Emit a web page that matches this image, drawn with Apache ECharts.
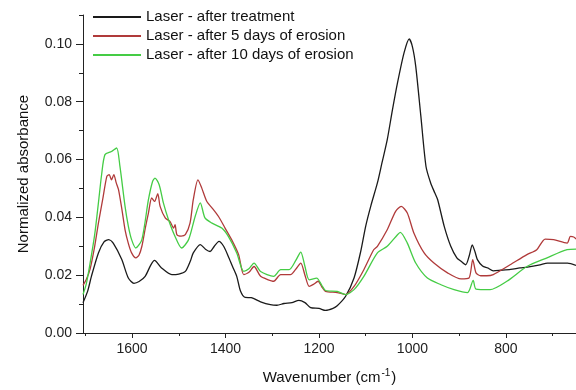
<!DOCTYPE html>
<html>
<head>
<meta charset="utf-8">
<script src="https://cdn.jsdelivr.net/npm/echarts@6/dist/echarts.min.js"></script>
<style>html,body{margin:0;padding:0;background:#fff}#c{width:576px;height:390px}</style>
</head>
<body>
<div id="c"></div>
<script>
// ---- Data ----
const seriesNames = ['Laser - after treatment', 'Laser - after 5 days of erosion', 'Laser - after 10 days of erosion'];

const wnTreat = [1705,1695,1687,1672,1660,1650,1640,1622,1608,1596,1585,1572,1560,1552,1537,1515,1500,1486,1475,1469,1454,1443,1433,1424,1414,1404,1394,1385,1376,1368,1358,1345,1325,1304,1290,1275,1258,1243,1230,1218,1200,1186,1170,1161,1143,1125,1111,1100,1089,1075,1065,1054,1043,1032,1018,1007,1000,993,982,971,961,952,946,932,918,905,896,886,878,872,866,861,850,839,827,811,790,770,754,727,711,684,668,650];
const absTreat = [0.0105,0.0145,0.0196,0.0277,0.0315,0.0323,0.031,0.0254,0.019,0.0172,0.0178,0.0196,0.0235,0.0251,0.0225,0.0202,0.0204,0.0213,0.025,0.0277,0.0306,0.029,0.0282,0.030,0.0317,0.030,0.0265,0.023,0.0196,0.0145,0.0123,0.0122,0.0108,0.0098,0.0096,0.0102,0.0105,0.0113,0.0105,0.0088,0.0085,0.0078,0.0085,0.0094,0.0127,0.019,0.028,0.037,0.044,0.0519,0.059,0.0668,0.077,0.0865,0.0969,0.1017,0.099,0.0923,0.075,0.0576,0.0519,0.0484,0.0461,0.0369,0.030,0.026,0.0248,0.0236,0.027,0.0305,0.028,0.0254,0.0232,0.0225,0.0215,0.0217,0.022,0.0225,0.0228,0.0236,0.0242,0.0242,0.0242,0.0234];

const wn5 = [1705,1698,1690,1680,1672,1662,1654,1649,1644,1639,1634,1629,1622,1615,1608,1601,1592,1585,1579,1572,1565,1558,1552,1545,1540,1529,1519,1511,1508,1504,1495,1486,1476,1469,1459,1451,1440,1429,1415,1401,1387,1372,1361,1350,1339,1325,1310,1297,1282,1261,1250,1239,1230,1221,1212,1202,1194,1186,1161,1143,1125,1104,1083,1075,1054,1036,1024,1011,997,975,954,925,896,879,871,864,854,841,827,791,755,734,716,698,669,662,655,650];
const abs5 = [0.0165,0.0185,0.022,0.030,0.038,0.047,0.0542,0.0548,0.053,0.0548,0.052,0.0496,0.043,0.0357,0.031,0.0277,0.026,0.027,0.030,0.036,0.0415,0.0467,0.0455,0.0482,0.0438,0.0398,0.0386,0.0363,0.0375,0.034,0.0335,0.034,0.038,0.0461,0.053,0.0502,0.0455,0.0433,0.0403,0.0363,0.0323,0.0271,0.0202,0.021,0.023,0.0196,0.0185,0.0179,0.0202,0.0202,0.022,0.0242,0.020,0.0161,0.0168,0.0179,0.016,0.0144,0.014,0.0133,0.0161,0.0219,0.0288,0.030,0.0357,0.0421,0.0438,0.0415,0.0346,0.0277,0.0242,0.0208,0.0187,0.019,0.0254,0.0208,0.0198,0.0198,0.0202,0.0236,0.0271,0.0288,0.0325,0.0323,0.0311,0.0334,0.0332,0.0325];

const wn10 = [1705,1698,1690,1680,1672,1665,1658,1644,1633,1626,1615,1608,1601,1592,1579,1565,1556,1551,1542,1533,1522,1508,1494,1479,1465,1454,1444,1429,1408,1394,1376,1361,1350,1339,1325,1297,1282,1264,1250,1239,1230,1221,1205,1194,1186,1161,1143,1125,1104,1075,1054,1032,1026,1011,993,968,939,911,882,870,864,834,798,755,712,669,650];
const abs10 = [0.0133,0.017,0.024,0.034,0.045,0.055,0.0617,0.0628,0.064,0.0577,0.0438,0.037,0.0323,0.0294,0.0323,0.0461,0.0525,0.0536,0.0513,0.045,0.0392,0.0334,0.0294,0.0323,0.0403,0.045,0.0398,0.038,0.0363,0.0334,0.0277,0.0213,0.0222,0.0242,0.0213,0.0196,0.0219,0.0219,0.025,0.028,0.023,0.0184,0.019,0.0165,0.0147,0.0144,0.0133,0.015,0.0196,0.0277,0.030,0.034,0.0348,0.0311,0.0242,0.019,0.0167,0.015,0.014,0.0182,0.0152,0.015,0.0179,0.023,0.026,0.0288,0.029];

const xMajorTicks = [800, 1000, 1200, 1400, 1600];
const xMinorTicks = [700, 900, 1100, 1300, 1500, 1700];
const yMajorTicks = [0, 0.02, 0.04, 0.06, 0.08, 0.10];
const yMinorTicks = [0.01, 0.03, 0.05, 0.07, 0.09, 0.11];

// ---- Chart ----
const zip = (xs, ys) => xs.map((x, i) => [x, ys[i]]);
const colors = ['#1a1a1a', '#b03a3a', '#45cc45'];
const font = 'Liberation Sans, Arial, sans-serif';
const xMin = 650, xMax = 1705, yMin = 0, yMax = 0.11;

const chart = echarts.init(document.getElementById('c'), null, {renderer: 'canvas'});
const axisCommon = {
  axisLine: {show: true, lineStyle: {color: '#222', width: 1}},
  splitLine: {show: false}
};
chart.setOption({
  animation: false,
  backgroundColor: '#fff',
  grid: {left: 83, right: 0, top: 15, bottom: 57, containLabel: false},
  legend: {
    orient: 'vertical', left: 87, top: 4,
    itemWidth: 48, itemHeight: 14, itemGap: 3,
    itemStyle: {opacity: 0},
    textStyle: {fontFamily: font, fontSize: 15, color: '#111', lineHeight: 16},
    data: seriesNames
  },
  xAxis: [{
    type: 'value', inverse: true, min: xMin, max: xMax, position: 'bottom',
    ...axisCommon,
    axisTick: {show: true, length: 5, customValues: xMajorTicks, lineStyle: {color: '#222'}},
    axisLabel: {customValues: xMajorTicks, margin: 9, fontFamily: font, fontSize: 14, color: '#222',
      formatter: v => String(v)},
    name: '{a|Wavenumber (cm}{s|-1}{a|)}', nameLocation: 'middle', nameGap: 35,
    nameTextStyle: {rich: {
      a: {fontFamily: font, fontSize: 15, color: '#111'},
      s: {fontFamily: font, fontSize: 10, color: '#111', padding: [0, 1, 9, 1]}
    }}
  }, {
    type: 'value', inverse: true, min: xMin, max: xMax, position: 'bottom',
    axisLine: {show: false}, splitLine: {show: false}, axisLabel: {show: false},
    axisTick: {show: true, length: 3, customValues: xMinorTicks, lineStyle: {color: '#222'}}
  }],
  yAxis: [{
    type: 'value', min: yMin, max: yMax, position: 'left',
    ...axisCommon,
    axisTick: {show: true, length: 7, customValues: yMajorTicks, lineStyle: {color: '#222'}},
    axisLabel: {customValues: yMajorTicks, margin: 11, fontFamily: font, fontSize: 14, color: '#222',
      formatter: v => v.toFixed(2)},
    name: 'Normalized absorbance', nameLocation: 'middle', nameGap: 52,
    nameTextStyle: {fontFamily: font, fontSize: 15, color: '#111'}
  }, {
    type: 'value', min: yMin, max: yMax, position: 'left', offset: 0,
    axisLine: {show: false}, splitLine: {show: false}, axisLabel: {show: false},
    axisTick: {show: true, length: 4, customValues: yMinorTicks, lineStyle: {color: '#222'}}
  }],
  series: [
    {name: seriesNames[0], data: zip(wnTreat, absTreat)},
    {name: seriesNames[1], data: zip(wn5, abs5)},
    {name: seriesNames[2], data: zip(wn10, abs10)}
  ].map((s, i) => ({
    ...s, type: 'line', xAxisIndex: 0, yAxisIndex: 0,
    symbol: 'none', smooth: 0.25, color: colors[i],
    lineStyle: {color: colors[i], width: 1.3}
  }))
});
</script>
</body>
</html>
